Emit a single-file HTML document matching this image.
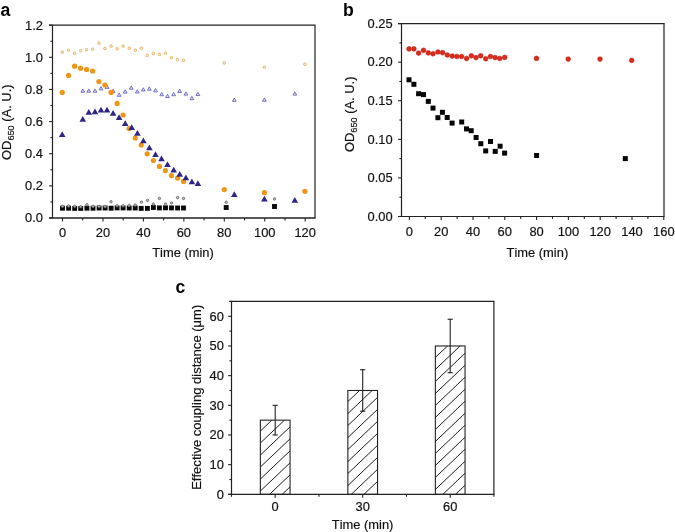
<!DOCTYPE html>
<html><head><meta charset="utf-8"><style>
html,body{margin:0;padding:0;background:#fff;}
body{width:675px;height:532px;overflow:hidden;}
svg{display:block;filter:blur(0.35px);}
text{font-family:"Liberation Sans", sans-serif;stroke:#111;stroke-width:0.18px;font-kerning:none;font-variant-ligatures:none;}
</style></head><body>
<svg width="675" height="532" viewBox="0 0 675 532" font-family='"Liberation Sans", sans-serif' fill="#111"><text transform="translate(0.6,15.6) scale(1,1.07)" font-size="17.6" font-weight="bold" fill="#000" style="stroke:none">a</text><text transform="translate(342.9,15.6) scale(1,1.07)" font-size="17.6" font-weight="bold" fill="#000" style="stroke:none">b</text><text transform="translate(175.5,292.8) scale(1,1.07)" font-size="17.6" font-weight="bold" fill="#000" style="stroke:none">c</text><line x1="49.1" y1="25.15" x2="315.55" y2="25.15" stroke="#222" stroke-width="1.3"/><line x1="49.1" y1="218" x2="315.55" y2="218" stroke="#222" stroke-width="1.3"/><line x1="52.5" y1="25.15" x2="52.5" y2="218" stroke="#222" stroke-width="1.2"/><line x1="315" y1="25.15" x2="315" y2="218" stroke="#222" stroke-width="1.2"/><line x1="49.1" y1="218" x2="52.5" y2="218" stroke="#222" stroke-width="1.1"/><line x1="49.1" y1="185.86" x2="52.5" y2="185.86" stroke="#222" stroke-width="1.1"/><line x1="49.1" y1="153.72" x2="52.5" y2="153.72" stroke="#222" stroke-width="1.1"/><line x1="49.1" y1="121.58" x2="52.5" y2="121.58" stroke="#222" stroke-width="1.1"/><line x1="49.1" y1="89.43" x2="52.5" y2="89.43" stroke="#222" stroke-width="1.1"/><line x1="49.1" y1="57.29" x2="52.5" y2="57.29" stroke="#222" stroke-width="1.1"/><line x1="49.1" y1="25.15" x2="52.5" y2="25.15" stroke="#222" stroke-width="1.1"/><line x1="50.4" y1="201.93" x2="52.5" y2="201.93" stroke="#222" stroke-width="1.1"/><line x1="50.4" y1="169.79" x2="52.5" y2="169.79" stroke="#222" stroke-width="1.1"/><line x1="50.4" y1="137.65" x2="52.5" y2="137.65" stroke="#222" stroke-width="1.1"/><line x1="50.4" y1="105.5" x2="52.5" y2="105.5" stroke="#222" stroke-width="1.1"/><line x1="50.4" y1="73.36" x2="52.5" y2="73.36" stroke="#222" stroke-width="1.1"/><line x1="50.4" y1="41.22" x2="52.5" y2="41.22" stroke="#222" stroke-width="1.1"/><line x1="62.5" y1="218" x2="62.5" y2="221.5" stroke="#222" stroke-width="1.1"/><line x1="102.95" y1="218" x2="102.95" y2="221.5" stroke="#222" stroke-width="1.1"/><line x1="143.4" y1="218" x2="143.4" y2="221.5" stroke="#222" stroke-width="1.1"/><line x1="183.85" y1="218" x2="183.85" y2="221.5" stroke="#222" stroke-width="1.1"/><line x1="224.3" y1="218" x2="224.3" y2="221.5" stroke="#222" stroke-width="1.1"/><line x1="264.75" y1="218" x2="264.75" y2="221.5" stroke="#222" stroke-width="1.1"/><line x1="305.2" y1="218" x2="305.2" y2="221.5" stroke="#222" stroke-width="1.1"/><line x1="82.72" y1="218" x2="82.72" y2="220.4" stroke="#222" stroke-width="1.1"/><line x1="123.17" y1="218" x2="123.17" y2="220.4" stroke="#222" stroke-width="1.1"/><line x1="163.62" y1="218" x2="163.62" y2="220.4" stroke="#222" stroke-width="1.1"/><line x1="204.07" y1="218" x2="204.07" y2="220.4" stroke="#222" stroke-width="1.1"/><line x1="244.53" y1="218" x2="244.53" y2="220.4" stroke="#222" stroke-width="1.1"/><line x1="284.98" y1="218" x2="284.98" y2="220.4" stroke="#222" stroke-width="1.1"/><text transform="translate(42.9,222.45) scale(1,1.05)" font-size="12.9" text-anchor="end">0.0</text><text transform="translate(42.9,190.31) scale(1,1.05)" font-size="12.9" text-anchor="end">0.2</text><text transform="translate(42.9,158.17) scale(1,1.05)" font-size="12.9" text-anchor="end">0.4</text><text transform="translate(42.9,126.03) scale(1,1.05)" font-size="12.9" text-anchor="end">0.6</text><text transform="translate(42.9,93.88) scale(1,1.05)" font-size="12.9" text-anchor="end">0.8</text><text transform="translate(42.9,61.74) scale(1,1.05)" font-size="12.9" text-anchor="end">1.0</text><text transform="translate(42.9,29.6) scale(1,1.05)" font-size="12.9" text-anchor="end">1.2</text><text transform="translate(62.5,237) scale(1,1.05)" font-size="12.9" text-anchor="middle">0</text><text transform="translate(102.95,237) scale(1,1.05)" font-size="12.9" text-anchor="middle">20</text><text transform="translate(143.4,237) scale(1,1.05)" font-size="12.9" text-anchor="middle">40</text><text transform="translate(183.85,237) scale(1,1.05)" font-size="12.9" text-anchor="middle">60</text><text transform="translate(224.3,237) scale(1,1.05)" font-size="12.9" text-anchor="middle">80</text><text transform="translate(264.75,237) scale(1,1.05)" font-size="12.9" text-anchor="middle">100</text><text transform="translate(305.2,237) scale(1,1.05)" font-size="12.9" text-anchor="middle">120</text><text x="183" y="257.2" font-size="12.9" text-anchor="middle" font-weight="normal" >Time (min)</text><text transform="translate(10.5,122.2) rotate(-90)" font-size="12.9" text-anchor="middle">OD<tspan font-size="9.2" dy="3.3">650</tspan><tspan dy="-3.3"> (A. U.)</tspan></text><circle cx="62.2" cy="52.1" r="1.3" fill="#f4ecdc" stroke="#e2ac5c" stroke-width="0.85"/><circle cx="68.5" cy="50.2" r="1.3" fill="#f4ecdc" stroke="#e2ac5c" stroke-width="0.85"/><circle cx="74.6" cy="53.2" r="1.3" fill="#f4ecdc" stroke="#e2ac5c" stroke-width="0.85"/><circle cx="80.6" cy="50.6" r="1.3" fill="#f4ecdc" stroke="#e2ac5c" stroke-width="0.85"/><circle cx="86.6" cy="49.7" r="1.3" fill="#f4ecdc" stroke="#e2ac5c" stroke-width="0.85"/><circle cx="92.6" cy="49.2" r="1.3" fill="#f4ecdc" stroke="#e2ac5c" stroke-width="0.85"/><circle cx="98.9" cy="43.1" r="1.3" fill="#f4ecdc" stroke="#e2ac5c" stroke-width="0.85"/><circle cx="104.9" cy="48.5" r="1.3" fill="#f4ecdc" stroke="#e2ac5c" stroke-width="0.85"/><circle cx="111.1" cy="46.1" r="1.3" fill="#f4ecdc" stroke="#e2ac5c" stroke-width="0.85"/><circle cx="117.1" cy="48.8" r="1.3" fill="#f4ecdc" stroke="#e2ac5c" stroke-width="0.85"/><circle cx="123.1" cy="46.1" r="1.3" fill="#f4ecdc" stroke="#e2ac5c" stroke-width="0.85"/><circle cx="129.3" cy="48.2" r="1.3" fill="#f4ecdc" stroke="#e2ac5c" stroke-width="0.85"/><circle cx="135.3" cy="50.2" r="1.3" fill="#f4ecdc" stroke="#e2ac5c" stroke-width="0.85"/><circle cx="141.3" cy="48.3" r="1.3" fill="#f4ecdc" stroke="#e2ac5c" stroke-width="0.85"/><circle cx="147.2" cy="55.4" r="1.3" fill="#f4ecdc" stroke="#e2ac5c" stroke-width="0.85"/><circle cx="153.4" cy="53.5" r="1.3" fill="#f4ecdc" stroke="#e2ac5c" stroke-width="0.85"/><circle cx="159.4" cy="54.4" r="1.3" fill="#f4ecdc" stroke="#e2ac5c" stroke-width="0.85"/><circle cx="165.4" cy="53.3" r="1.3" fill="#f4ecdc" stroke="#e2ac5c" stroke-width="0.85"/><circle cx="171.4" cy="57.7" r="1.3" fill="#f4ecdc" stroke="#e2ac5c" stroke-width="0.85"/><circle cx="177.4" cy="59.6" r="1.3" fill="#f4ecdc" stroke="#e2ac5c" stroke-width="0.85"/><circle cx="183.6" cy="60.2" r="1.3" fill="#f4ecdc" stroke="#e2ac5c" stroke-width="0.85"/><circle cx="224.3" cy="62.9" r="1.3" fill="#f4ecdc" stroke="#e2ac5c" stroke-width="0.85"/><circle cx="264.4" cy="67.2" r="1.3" fill="#f4ecdc" stroke="#e2ac5c" stroke-width="0.85"/><circle cx="304.9" cy="64.3" r="1.3" fill="#f4ecdc" stroke="#e2ac5c" stroke-width="0.85"/><polygon points="82.8,88.92 84.7,92.22 80.9,92.22" fill="#e0def2" stroke="#6260b4" stroke-width="0.85"/><polygon points="88.8,88.92 90.7,92.22 86.9,92.22" fill="#e0def2" stroke="#6260b4" stroke-width="0.85"/><polygon points="95,88.92 96.9,92.22 93.1,92.22" fill="#e0def2" stroke="#6260b4" stroke-width="0.85"/><polygon points="101,86.62 102.9,89.92 99.1,89.92" fill="#e0def2" stroke="#6260b4" stroke-width="0.85"/><polygon points="107,85.12 108.9,88.42 105.1,88.42" fill="#e0def2" stroke="#6260b4" stroke-width="0.85"/><polygon points="113.1,89.22 115,92.52 111.2,92.52" fill="#e0def2" stroke="#6260b4" stroke-width="0.85"/><polygon points="119.2,93.02 121.1,96.32 117.3,96.32" fill="#e0def2" stroke="#6260b4" stroke-width="0.85"/><polygon points="125.2,89.82 127.1,93.12 123.3,93.12" fill="#e0def2" stroke="#6260b4" stroke-width="0.85"/><polygon points="131.2,85.92 133.1,89.22 129.3,89.22" fill="#e0def2" stroke="#6260b4" stroke-width="0.85"/><polygon points="137.3,89.72 139.2,93.02 135.4,93.02" fill="#e0def2" stroke="#6260b4" stroke-width="0.85"/><polygon points="143.3,87.72 145.2,91.02 141.4,91.02" fill="#e0def2" stroke="#6260b4" stroke-width="0.85"/><polygon points="149.3,86.92 151.2,90.22 147.4,90.22" fill="#e0def2" stroke="#6260b4" stroke-width="0.85"/><polygon points="155.5,88.52 157.4,91.82 153.6,91.82" fill="#e0def2" stroke="#6260b4" stroke-width="0.85"/><polygon points="161.7,92.42 163.6,95.72 159.8,95.72" fill="#e0def2" stroke="#6260b4" stroke-width="0.85"/><polygon points="167.5,94.32 169.4,97.62 165.6,97.62" fill="#e0def2" stroke="#6260b4" stroke-width="0.85"/><polygon points="173.7,92.42 175.6,95.72 171.8,95.72" fill="#e0def2" stroke="#6260b4" stroke-width="0.85"/><polygon points="179.7,89.22 181.6,92.52 177.8,92.52" fill="#e0def2" stroke="#6260b4" stroke-width="0.85"/><polygon points="185.9,91.82 187.8,95.12 184,95.12" fill="#e0def2" stroke="#6260b4" stroke-width="0.85"/><polygon points="191.9,96.42 193.8,99.72 190,99.72" fill="#e0def2" stroke="#6260b4" stroke-width="0.85"/><polygon points="197.9,92.22 199.8,95.52 196,95.52" fill="#e0def2" stroke="#6260b4" stroke-width="0.85"/><polygon points="234.3,98.02 236.2,101.32 232.4,101.32" fill="#e0def2" stroke="#6260b4" stroke-width="0.85"/><polygon points="264.4,98.02 266.3,101.32 262.5,101.32" fill="#e0def2" stroke="#6260b4" stroke-width="0.85"/><polygon points="294.8,91.82 296.7,95.12 292.9,95.12" fill="#e0def2" stroke="#6260b4" stroke-width="0.85"/><circle cx="62.2" cy="92.4" r="2.6" fill="#ef9518"/><circle cx="68.5" cy="75.4" r="2.6" fill="#ef9518"/><circle cx="74.6" cy="66.2" r="2.6" fill="#ef9518"/><circle cx="80.6" cy="68.2" r="2.6" fill="#ef9518"/><circle cx="86.6" cy="69.5" r="2.6" fill="#ef9518"/><circle cx="92.6" cy="71.1" r="2.6" fill="#ef9518"/><circle cx="98.9" cy="81.6" r="2.6" fill="#ef9518"/><circle cx="104.9" cy="85" r="2.6" fill="#ef9518"/><circle cx="111.1" cy="92.4" r="2.6" fill="#ef9518"/><circle cx="117.1" cy="103.4" r="2.6" fill="#ef9518"/><circle cx="123.1" cy="115" r="2.6" fill="#ef9518"/><circle cx="129.1" cy="128.6" r="2.6" fill="#ef9518"/><circle cx="135.2" cy="138" r="2.6" fill="#ef9518"/><circle cx="141.2" cy="145" r="2.6" fill="#ef9518"/><circle cx="147.2" cy="153.8" r="2.6" fill="#ef9518"/><circle cx="153.4" cy="160.5" r="2.6" fill="#ef9518"/><circle cx="159.4" cy="166.4" r="2.6" fill="#ef9518"/><circle cx="165.4" cy="170.6" r="2.6" fill="#ef9518"/><circle cx="171.4" cy="175.6" r="2.6" fill="#ef9518"/><circle cx="177.6" cy="178.1" r="2.6" fill="#ef9518"/><circle cx="183.6" cy="181.4" r="2.6" fill="#ef9518"/><circle cx="224.3" cy="189.6" r="2.6" fill="#ef9518"/><circle cx="264.4" cy="192.7" r="2.6" fill="#ef9518"/><circle cx="304.9" cy="191.3" r="2.6" fill="#ef9518"/><polygon points="62.2,131.23 65.5,136.93 58.9,136.93" fill="#2d2686"/><polygon points="82.8,116.03 86.1,121.73 79.5,121.73" fill="#2d2686"/><polygon points="88.8,108.93 92.1,114.63 85.5,114.63" fill="#2d2686"/><polygon points="95,108.53 98.3,114.23 91.7,114.23" fill="#2d2686"/><polygon points="101,106.73 104.3,112.43 97.7,112.43" fill="#2d2686"/><polygon points="107,106.73 110.3,112.43 103.7,112.43" fill="#2d2686"/><polygon points="113.1,110.03 116.4,115.73 109.8,115.73" fill="#2d2686"/><polygon points="119.1,114.23 122.4,119.93 115.8,119.93" fill="#2d2686"/><polygon points="125.2,120.23 128.5,125.93 121.9,125.93" fill="#2d2686"/><polygon points="131.7,124.33 135,130.03 128.4,130.03" fill="#2d2686"/><polygon points="137.4,130.03 140.7,135.73 134.1,135.73" fill="#2d2686"/><polygon points="143.4,137.53 146.7,143.23 140.1,143.23" fill="#2d2686"/><polygon points="149.4,144.43 152.7,150.13 146.1,150.13" fill="#2d2686"/><polygon points="155.5,151.33 158.8,157.03 152.2,157.03" fill="#2d2686"/><polygon points="161.5,155.53 164.8,161.23 158.2,161.23" fill="#2d2686"/><polygon points="167.5,161.23 170.8,166.93 164.2,166.93" fill="#2d2686"/><polygon points="173.7,166.73 177,172.43 170.4,172.43" fill="#2d2686"/><polygon points="179.7,171.03 183,176.73 176.4,176.73" fill="#2d2686"/><polygon points="185.9,174.43 189.2,180.13 182.6,180.13" fill="#2d2686"/><polygon points="191.9,178.53 195.2,184.23 188.6,184.23" fill="#2d2686"/><polygon points="197.9,180.33 201.2,186.03 194.6,186.03" fill="#2d2686"/><polygon points="234.3,191.33 237.6,197.03 231,197.03" fill="#2d2686"/><polygon points="264.4,195.83 267.7,201.53 261.1,201.53" fill="#2d2686"/><polygon points="294.8,196.93 298.1,202.63 291.5,202.63" fill="#2d2686"/><rect x="60.05" y="205.75" width="4.9" height="4.9" fill="#080808"/><rect x="66.15" y="205.75" width="4.9" height="4.9" fill="#080808"/><rect x="72.25" y="205.95" width="4.9" height="4.9" fill="#080808"/><rect x="78.25" y="205.95" width="4.9" height="4.9" fill="#080808"/><rect x="84.45" y="205.75" width="4.9" height="4.9" fill="#080808"/><rect x="90.55" y="205.75" width="4.9" height="4.9" fill="#080808"/><rect x="96.65" y="205.55" width="4.9" height="4.9" fill="#080808"/><rect x="102.65" y="205.55" width="4.9" height="4.9" fill="#080808"/><rect x="108.65" y="205.75" width="4.9" height="4.9" fill="#080808"/><rect x="114.65" y="205.45" width="4.9" height="4.9" fill="#080808"/><rect x="120.65" y="205.45" width="4.9" height="4.9" fill="#080808"/><rect x="126.75" y="205.55" width="4.9" height="4.9" fill="#080808"/><rect x="132.75" y="205.55" width="4.9" height="4.9" fill="#080808"/><rect x="138.75" y="205.95" width="4.9" height="4.9" fill="#080808"/><rect x="144.95" y="205.95" width="4.9" height="4.9" fill="#080808"/><rect x="150.95" y="205.05" width="4.9" height="4.9" fill="#080808"/><rect x="156.95" y="205.45" width="4.9" height="4.9" fill="#080808"/><rect x="163.05" y="205.35" width="4.9" height="4.9" fill="#080808"/><rect x="169.05" y="205.45" width="4.9" height="4.9" fill="#080808"/><rect x="175.15" y="205.55" width="4.9" height="4.9" fill="#080808"/><rect x="181.05" y="205.55" width="4.9" height="4.9" fill="#080808"/><rect x="223.75" y="205.05" width="4.9" height="4.9" fill="#080808"/><rect x="272.05" y="204.05" width="4.9" height="4.9" fill="#080808"/><circle cx="62.5" cy="206.2" r="1.25" fill="#b8b8b8" stroke="#6a6a6a" stroke-width="0.8"/><circle cx="68.6" cy="206" r="1.25" fill="#b8b8b8" stroke="#6a6a6a" stroke-width="0.8"/><circle cx="74.7" cy="206.2" r="1.25" fill="#b8b8b8" stroke="#6a6a6a" stroke-width="0.8"/><circle cx="80.7" cy="206.8" r="1.25" fill="#b8b8b8" stroke="#6a6a6a" stroke-width="0.8"/><circle cx="86.9" cy="204.8" r="1.25" fill="#b8b8b8" stroke="#6a6a6a" stroke-width="0.8"/><circle cx="93" cy="206.3" r="1.25" fill="#b8b8b8" stroke="#6a6a6a" stroke-width="0.8"/><circle cx="99.1" cy="206.5" r="1.25" fill="#b8b8b8" stroke="#6a6a6a" stroke-width="0.8"/><circle cx="105.1" cy="206.5" r="1.25" fill="#b8b8b8" stroke="#6a6a6a" stroke-width="0.8"/><circle cx="111" cy="201.7" r="1.25" fill="#b8b8b8" stroke="#6a6a6a" stroke-width="0.8"/><circle cx="117.1" cy="205.8" r="1.25" fill="#b8b8b8" stroke="#6a6a6a" stroke-width="0.8"/><circle cx="123.1" cy="205.8" r="1.25" fill="#b8b8b8" stroke="#6a6a6a" stroke-width="0.8"/><circle cx="129.2" cy="205.4" r="1.25" fill="#b8b8b8" stroke="#6a6a6a" stroke-width="0.8"/><circle cx="135.2" cy="205.1" r="1.25" fill="#b8b8b8" stroke="#6a6a6a" stroke-width="0.8"/><circle cx="141.5" cy="202.1" r="1.25" fill="#b8b8b8" stroke="#6a6a6a" stroke-width="0.8"/><circle cx="147.5" cy="200.4" r="1.25" fill="#b8b8b8" stroke="#6a6a6a" stroke-width="0.8"/><circle cx="153.4" cy="204.1" r="1.25" fill="#b8b8b8" stroke="#6a6a6a" stroke-width="0.8"/><circle cx="159.4" cy="198.4" r="1.25" fill="#b8b8b8" stroke="#6a6a6a" stroke-width="0.8"/><circle cx="165.5" cy="204.1" r="1.25" fill="#b8b8b8" stroke="#6a6a6a" stroke-width="0.8"/><circle cx="171.5" cy="203" r="1.25" fill="#b8b8b8" stroke="#6a6a6a" stroke-width="0.8"/><circle cx="177.6" cy="197.5" r="1.25" fill="#b8b8b8" stroke="#6a6a6a" stroke-width="0.8"/><circle cx="183.5" cy="198.4" r="1.25" fill="#b8b8b8" stroke="#6a6a6a" stroke-width="0.8"/><circle cx="226.2" cy="202.3" r="1.25" fill="#b8b8b8" stroke="#6a6a6a" stroke-width="0.8"/><circle cx="274.5" cy="198.9" r="1.25" fill="#b8b8b8" stroke="#6a6a6a" stroke-width="0.8"/><line x1="398.1" y1="23.6" x2="664.55" y2="23.6" stroke="#222" stroke-width="1.15"/><line x1="398.1" y1="216.5" x2="664.55" y2="216.5" stroke="#222" stroke-width="1.15"/><line x1="401.5" y1="23.6" x2="401.5" y2="216.5" stroke="#222" stroke-width="1.2"/><line x1="664" y1="23.6" x2="664" y2="216.5" stroke="#222" stroke-width="1.2"/><line x1="398.1" y1="216.5" x2="401.5" y2="216.5" stroke="#222" stroke-width="1.1"/><line x1="398.1" y1="177.92" x2="401.5" y2="177.92" stroke="#222" stroke-width="1.1"/><line x1="398.1" y1="139.34" x2="401.5" y2="139.34" stroke="#222" stroke-width="1.1"/><line x1="398.1" y1="100.76" x2="401.5" y2="100.76" stroke="#222" stroke-width="1.1"/><line x1="398.1" y1="62.18" x2="401.5" y2="62.18" stroke="#222" stroke-width="1.1"/><line x1="398.1" y1="23.6" x2="401.5" y2="23.6" stroke="#222" stroke-width="1.1"/><line x1="399.4" y1="197.21" x2="401.5" y2="197.21" stroke="#222" stroke-width="1.1"/><line x1="399.4" y1="158.63" x2="401.5" y2="158.63" stroke="#222" stroke-width="1.1"/><line x1="399.4" y1="120.05" x2="401.5" y2="120.05" stroke="#222" stroke-width="1.1"/><line x1="399.4" y1="81.47" x2="401.5" y2="81.47" stroke="#222" stroke-width="1.1"/><line x1="399.4" y1="42.89" x2="401.5" y2="42.89" stroke="#222" stroke-width="1.1"/><line x1="409.4" y1="216.5" x2="409.4" y2="220" stroke="#222" stroke-width="1.1"/><line x1="441.2" y1="216.5" x2="441.2" y2="220" stroke="#222" stroke-width="1.1"/><line x1="473" y1="216.5" x2="473" y2="220" stroke="#222" stroke-width="1.1"/><line x1="504.8" y1="216.5" x2="504.8" y2="220" stroke="#222" stroke-width="1.1"/><line x1="536.6" y1="216.5" x2="536.6" y2="220" stroke="#222" stroke-width="1.1"/><line x1="568.4" y1="216.5" x2="568.4" y2="220" stroke="#222" stroke-width="1.1"/><line x1="600.2" y1="216.5" x2="600.2" y2="220" stroke="#222" stroke-width="1.1"/><line x1="632" y1="216.5" x2="632" y2="220" stroke="#222" stroke-width="1.1"/><line x1="663.8" y1="216.5" x2="663.8" y2="220" stroke="#222" stroke-width="1.1"/><line x1="425.3" y1="216.5" x2="425.3" y2="218.9" stroke="#222" stroke-width="1.1"/><line x1="457.1" y1="216.5" x2="457.1" y2="218.9" stroke="#222" stroke-width="1.1"/><line x1="488.9" y1="216.5" x2="488.9" y2="218.9" stroke="#222" stroke-width="1.1"/><line x1="520.7" y1="216.5" x2="520.7" y2="218.9" stroke="#222" stroke-width="1.1"/><line x1="552.5" y1="216.5" x2="552.5" y2="218.9" stroke="#222" stroke-width="1.1"/><line x1="584.3" y1="216.5" x2="584.3" y2="218.9" stroke="#222" stroke-width="1.1"/><line x1="616.1" y1="216.5" x2="616.1" y2="218.9" stroke="#222" stroke-width="1.1"/><line x1="647.9" y1="216.5" x2="647.9" y2="218.9" stroke="#222" stroke-width="1.1"/><text transform="translate(392.6,220.7) scale(1,1.05)" font-size="12.9" text-anchor="end">0.00</text><text transform="translate(392.6,182.12) scale(1,1.05)" font-size="12.9" text-anchor="end">0.05</text><text transform="translate(392.6,143.54) scale(1,1.05)" font-size="12.9" text-anchor="end">0.10</text><text transform="translate(392.6,104.96) scale(1,1.05)" font-size="12.9" text-anchor="end">0.15</text><text transform="translate(392.6,66.38) scale(1,1.05)" font-size="12.9" text-anchor="end">0.20</text><text transform="translate(392.6,27.8) scale(1,1.05)" font-size="12.9" text-anchor="end">0.25</text><text transform="translate(409.4,235.6) scale(1,1.05)" font-size="12.9" text-anchor="middle">0</text><text transform="translate(441.2,235.6) scale(1,1.05)" font-size="12.9" text-anchor="middle">20</text><text transform="translate(473,235.6) scale(1,1.05)" font-size="12.9" text-anchor="middle">40</text><text transform="translate(504.8,235.6) scale(1,1.05)" font-size="12.9" text-anchor="middle">60</text><text transform="translate(536.6,235.6) scale(1,1.05)" font-size="12.9" text-anchor="middle">80</text><text transform="translate(568.4,235.6) scale(1,1.05)" font-size="12.9" text-anchor="middle">100</text><text transform="translate(600.2,235.6) scale(1,1.05)" font-size="12.9" text-anchor="middle">120</text><text transform="translate(632,235.6) scale(1,1.05)" font-size="12.9" text-anchor="middle">140</text><text transform="translate(663.8,235.6) scale(1,1.05)" font-size="12.9" text-anchor="middle">160</text><text x="537.4" y="256.9" font-size="12.9" text-anchor="middle" font-weight="normal" >Time (min)</text><text transform="translate(353.9,114.3) rotate(-90)" font-size="12.9" text-anchor="middle">OD<tspan font-size="9.2" dy="3.3">650</tspan><tspan dy="-3.3"> (A. U.)</tspan></text><circle cx="409" cy="48.9" r="2.35" fill="#dc2a1c" stroke="#b81c10" stroke-width="0.6"/><circle cx="413.9" cy="48.9" r="2.35" fill="#dc2a1c" stroke="#b81c10" stroke-width="0.6"/><circle cx="418.6" cy="53.1" r="2.35" fill="#dc2a1c" stroke="#b81c10" stroke-width="0.6"/><circle cx="423.5" cy="50.3" r="2.35" fill="#dc2a1c" stroke="#b81c10" stroke-width="0.6"/><circle cx="428.3" cy="52.9" r="2.35" fill="#dc2a1c" stroke="#b81c10" stroke-width="0.6"/><circle cx="433" cy="53.8" r="2.35" fill="#dc2a1c" stroke="#b81c10" stroke-width="0.6"/><circle cx="437.9" cy="52" r="2.35" fill="#dc2a1c" stroke="#b81c10" stroke-width="0.6"/><circle cx="442.6" cy="52.7" r="2.35" fill="#dc2a1c" stroke="#b81c10" stroke-width="0.6"/><circle cx="447.3" cy="55" r="2.35" fill="#dc2a1c" stroke="#b81c10" stroke-width="0.6"/><circle cx="452.2" cy="56.1" r="2.35" fill="#dc2a1c" stroke="#b81c10" stroke-width="0.6"/><circle cx="456.9" cy="56.5" r="2.35" fill="#dc2a1c" stroke="#b81c10" stroke-width="0.6"/><circle cx="461.6" cy="56.5" r="2.35" fill="#dc2a1c" stroke="#b81c10" stroke-width="0.6"/><circle cx="466.6" cy="58.5" r="2.35" fill="#dc2a1c" stroke="#b81c10" stroke-width="0.6"/><circle cx="471.3" cy="55.8" r="2.35" fill="#dc2a1c" stroke="#b81c10" stroke-width="0.6"/><circle cx="476" cy="57.6" r="2.35" fill="#dc2a1c" stroke="#b81c10" stroke-width="0.6"/><circle cx="480.7" cy="55.8" r="2.35" fill="#dc2a1c" stroke="#b81c10" stroke-width="0.6"/><circle cx="485.7" cy="58.8" r="2.35" fill="#dc2a1c" stroke="#b81c10" stroke-width="0.6"/><circle cx="490.4" cy="56.5" r="2.35" fill="#dc2a1c" stroke="#b81c10" stroke-width="0.6"/><circle cx="495.1" cy="57.6" r="2.35" fill="#dc2a1c" stroke="#b81c10" stroke-width="0.6"/><circle cx="499.8" cy="58.5" r="2.35" fill="#dc2a1c" stroke="#b81c10" stroke-width="0.6"/><circle cx="504.7" cy="57.4" r="2.35" fill="#dc2a1c" stroke="#b81c10" stroke-width="0.6"/><circle cx="536.5" cy="58.4" r="2.35" fill="#dc2a1c" stroke="#b81c10" stroke-width="0.6"/><circle cx="568.2" cy="59.1" r="2.35" fill="#dc2a1c" stroke="#b81c10" stroke-width="0.6"/><circle cx="600" cy="59.1" r="2.35" fill="#dc2a1c" stroke="#b81c10" stroke-width="0.6"/><circle cx="631.7" cy="60.4" r="2.35" fill="#dc2a1c" stroke="#b81c10" stroke-width="0.6"/><rect x="406.5" y="77.3" width="5" height="5" fill="#050505"/><rect x="411.4" y="81.8" width="5" height="5" fill="#050505"/><rect x="416.1" y="91.2" width="5" height="5" fill="#050505"/><rect x="421" y="92.1" width="5" height="5" fill="#050505"/><rect x="425.8" y="98.9" width="5" height="5" fill="#050505"/><rect x="430.5" y="105.6" width="5" height="5" fill="#050505"/><rect x="435.4" y="115.2" width="5" height="5" fill="#050505"/><rect x="439.9" y="109.8" width="5" height="5" fill="#050505"/><rect x="444.7" y="115" width="5" height="5" fill="#050505"/><rect x="449.6" y="120.6" width="5" height="5" fill="#050505"/><rect x="459.2" y="119.5" width="5" height="5" fill="#050505"/><rect x="464" y="126.4" width="5" height="5" fill="#050505"/><rect x="468.7" y="128.2" width="5" height="5" fill="#050505"/><rect x="473.6" y="135" width="5" height="5" fill="#050505"/><rect x="478.3" y="141.2" width="5" height="5" fill="#050505"/><rect x="483.2" y="148.4" width="5" height="5" fill="#050505"/><rect x="488" y="139" width="5" height="5" fill="#050505"/><rect x="492.7" y="148.9" width="5" height="5" fill="#050505"/><rect x="497.6" y="143.7" width="5" height="5" fill="#050505"/><rect x="502.1" y="150.6" width="5" height="5" fill="#050505"/><rect x="534.1" y="153" width="5" height="5" fill="#050505"/><rect x="622.8" y="156.1" width="5" height="5" fill="#050505"/><defs><clipPath id="cp0"><rect x="260.35" y="420.16" width="29.7" height="74.19"/></clipPath><clipPath id="cp1"><rect x="347.85" y="390.48" width="29.7" height="103.87"/></clipPath><clipPath id="cp2"><rect x="435.35" y="345.97" width="29.7" height="148.38"/></clipPath></defs><g clip-path="url(#cp0)" stroke="#1e1e1e" stroke-width="1"><line x1="259.35" y1="396.01" x2="291.05" y2="365.89"/><line x1="259.35" y1="408.01" x2="291.05" y2="377.89"/><line x1="259.35" y1="420.01" x2="291.05" y2="389.89"/><line x1="259.35" y1="432.01" x2="291.05" y2="401.89"/><line x1="259.35" y1="444.01" x2="291.05" y2="413.89"/><line x1="259.35" y1="456.01" x2="291.05" y2="425.89"/><line x1="259.35" y1="468.01" x2="291.05" y2="437.89"/><line x1="259.35" y1="480.01" x2="291.05" y2="449.89"/><line x1="259.35" y1="492.01" x2="291.05" y2="461.89"/><line x1="259.35" y1="504.01" x2="291.05" y2="473.89"/><line x1="259.35" y1="516.01" x2="291.05" y2="485.89"/></g><rect x="260.35" y="420.16" width="29.7" height="74.19" fill="none" stroke="#222" stroke-width="1.1"/><line x1="275.2" y1="435" x2="275.2" y2="405.32" stroke="#222" stroke-width="1.1"/><line x1="272.6" y1="435" x2="277.8" y2="435" stroke="#222" stroke-width="1.1"/><line x1="272.6" y1="405.32" x2="277.8" y2="405.32" stroke="#222" stroke-width="1.1"/><g clip-path="url(#cp1)" stroke="#1e1e1e" stroke-width="1"><line x1="346.85" y1="366.53" x2="378.55" y2="336.42"/><line x1="346.85" y1="378.53" x2="378.55" y2="348.42"/><line x1="346.85" y1="390.53" x2="378.55" y2="360.42"/><line x1="346.85" y1="402.53" x2="378.55" y2="372.42"/><line x1="346.85" y1="414.53" x2="378.55" y2="384.42"/><line x1="346.85" y1="426.53" x2="378.55" y2="396.42"/><line x1="346.85" y1="438.53" x2="378.55" y2="408.42"/><line x1="346.85" y1="450.53" x2="378.55" y2="420.42"/><line x1="346.85" y1="462.53" x2="378.55" y2="432.42"/><line x1="346.85" y1="474.53" x2="378.55" y2="444.42"/><line x1="346.85" y1="486.53" x2="378.55" y2="456.42"/><line x1="346.85" y1="498.53" x2="378.55" y2="468.42"/><line x1="346.85" y1="510.53" x2="378.55" y2="480.42"/><line x1="346.85" y1="522.53" x2="378.55" y2="492.42"/></g><rect x="347.85" y="390.48" width="29.7" height="103.87" fill="none" stroke="#222" stroke-width="1.1"/><line x1="362.7" y1="411.25" x2="362.7" y2="369.71" stroke="#222" stroke-width="1.1"/><line x1="360.1" y1="411.25" x2="365.3" y2="411.25" stroke="#222" stroke-width="1.1"/><line x1="360.1" y1="369.71" x2="365.3" y2="369.71" stroke="#222" stroke-width="1.1"/><g clip-path="url(#cp2)" stroke="#1e1e1e" stroke-width="1"><line x1="434.35" y1="322.42" x2="466.05" y2="292.3"/><line x1="434.35" y1="334.42" x2="466.05" y2="304.3"/><line x1="434.35" y1="346.42" x2="466.05" y2="316.3"/><line x1="434.35" y1="358.42" x2="466.05" y2="328.3"/><line x1="434.35" y1="370.42" x2="466.05" y2="340.3"/><line x1="434.35" y1="382.42" x2="466.05" y2="352.3"/><line x1="434.35" y1="394.42" x2="466.05" y2="364.3"/><line x1="434.35" y1="406.42" x2="466.05" y2="376.3"/><line x1="434.35" y1="418.42" x2="466.05" y2="388.3"/><line x1="434.35" y1="430.42" x2="466.05" y2="400.3"/><line x1="434.35" y1="442.42" x2="466.05" y2="412.3"/><line x1="434.35" y1="454.42" x2="466.05" y2="424.3"/><line x1="434.35" y1="466.42" x2="466.05" y2="436.3"/><line x1="434.35" y1="478.42" x2="466.05" y2="448.3"/><line x1="434.35" y1="490.42" x2="466.05" y2="460.3"/><line x1="434.35" y1="502.42" x2="466.05" y2="472.3"/><line x1="434.35" y1="514.42" x2="466.05" y2="484.3"/></g><rect x="435.35" y="345.97" width="29.7" height="148.38" fill="none" stroke="#222" stroke-width="1.1"/><line x1="450.2" y1="372.67" x2="450.2" y2="319.26" stroke="#222" stroke-width="1.1"/><line x1="447.6" y1="372.67" x2="452.8" y2="372.67" stroke="#222" stroke-width="1.1"/><line x1="447.6" y1="319.26" x2="452.8" y2="319.26" stroke="#222" stroke-width="1.1"/><line x1="229.4" y1="301.45" x2="494.45" y2="301.45" stroke="#222" stroke-width="1.2"/><line x1="228.1" y1="494.35" x2="494.45" y2="494.35" stroke="#222" stroke-width="1.2"/><line x1="231.5" y1="301.45" x2="231.5" y2="494.35" stroke="#222" stroke-width="1.2"/><line x1="493.9" y1="301.45" x2="493.9" y2="494.35" stroke="#222" stroke-width="1.2"/><line x1="228.1" y1="494.35" x2="231.5" y2="494.35" stroke="#222" stroke-width="1.1"/><line x1="228.1" y1="464.67" x2="231.5" y2="464.67" stroke="#222" stroke-width="1.1"/><line x1="228.1" y1="435" x2="231.5" y2="435" stroke="#222" stroke-width="1.1"/><line x1="228.1" y1="405.32" x2="231.5" y2="405.32" stroke="#222" stroke-width="1.1"/><line x1="228.1" y1="375.64" x2="231.5" y2="375.64" stroke="#222" stroke-width="1.1"/><line x1="228.1" y1="345.97" x2="231.5" y2="345.97" stroke="#222" stroke-width="1.1"/><line x1="228.1" y1="316.29" x2="231.5" y2="316.29" stroke="#222" stroke-width="1.1"/><line x1="229.4" y1="479.51" x2="231.5" y2="479.51" stroke="#222" stroke-width="1.1"/><line x1="229.4" y1="449.83" x2="231.5" y2="449.83" stroke="#222" stroke-width="1.1"/><line x1="229.4" y1="420.16" x2="231.5" y2="420.16" stroke="#222" stroke-width="1.1"/><line x1="229.4" y1="390.48" x2="231.5" y2="390.48" stroke="#222" stroke-width="1.1"/><line x1="229.4" y1="360.8" x2="231.5" y2="360.8" stroke="#222" stroke-width="1.1"/><line x1="229.4" y1="331.13" x2="231.5" y2="331.13" stroke="#222" stroke-width="1.1"/><line x1="229.4" y1="301.45" x2="231.5" y2="301.45" stroke="#222" stroke-width="1.1"/><line x1="275.2" y1="494.35" x2="275.2" y2="497.75" stroke="#222" stroke-width="1.1"/><line x1="362.7" y1="494.35" x2="362.7" y2="497.75" stroke="#222" stroke-width="1.1"/><line x1="450.2" y1="494.35" x2="450.2" y2="497.75" stroke="#222" stroke-width="1.1"/><line x1="231.5" y1="494.35" x2="231.5" y2="496.75" stroke="#222" stroke-width="1.1"/><line x1="318.95" y1="494.35" x2="318.95" y2="496.75" stroke="#222" stroke-width="1.1"/><line x1="406.45" y1="494.35" x2="406.45" y2="496.75" stroke="#222" stroke-width="1.1"/><line x1="493.9" y1="494.35" x2="493.9" y2="496.75" stroke="#222" stroke-width="1.1"/><text transform="translate(223.9,498.8) scale(1,1.05)" font-size="12.9" text-anchor="end">0</text><text transform="translate(223.9,469.12) scale(1,1.05)" font-size="12.9" text-anchor="end">10</text><text transform="translate(223.9,439.45) scale(1,1.05)" font-size="12.9" text-anchor="end">20</text><text transform="translate(223.9,409.77) scale(1,1.05)" font-size="12.9" text-anchor="end">30</text><text transform="translate(223.9,380.09) scale(1,1.05)" font-size="12.9" text-anchor="end">40</text><text transform="translate(223.9,350.42) scale(1,1.05)" font-size="12.9" text-anchor="end">50</text><text transform="translate(223.9,320.74) scale(1,1.05)" font-size="12.9" text-anchor="end">60</text><text transform="translate(275.2,511.4) scale(1,1.05)" font-size="12.9" text-anchor="middle">0</text><text transform="translate(362.7,511.4) scale(1,1.05)" font-size="12.9" text-anchor="middle">30</text><text transform="translate(450.2,511.4) scale(1,1.05)" font-size="12.9" text-anchor="middle">60</text><text x="362.6" y="528.8" font-size="12.9" text-anchor="middle" font-weight="normal" >Time (min)</text><text transform="translate(200.8,397.25) rotate(-90)" font-size="13.06" text-anchor="middle">Effective coupling distance (μm)</text></svg>
</body></html>
